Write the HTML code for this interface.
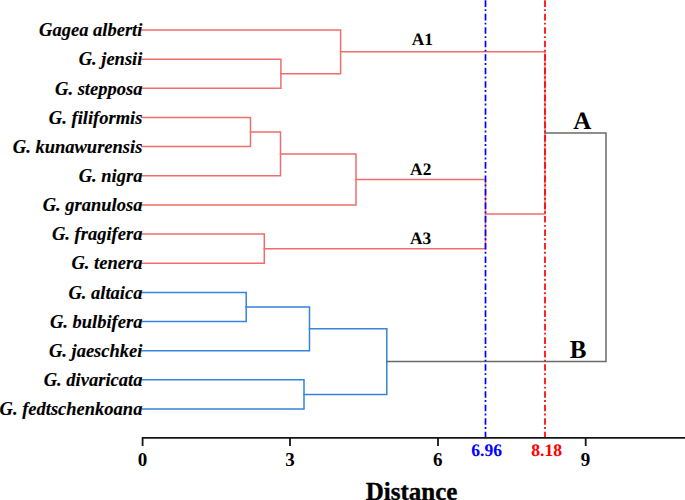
<!DOCTYPE html>
<html><head><meta charset="utf-8"><style>
html,body{margin:0;padding:0;background:#fff;}
svg{display:block;}
</style></head><body>
<svg width="685" height="500" viewBox="0 0 685 500">
<rect width="685" height="500" fill="#fff"/>
<g fill="none" stroke-width="1.5" stroke-linecap="square">
<path d="M142.00 59.15H280.90V88.31H142.00" stroke="#ee6e6e"/>
<path d="M142.00 30.00H340.60V73.73H280.90" stroke="#ee6e6e"/>
<path d="M142.00 117.46H250.50V146.62H142.00" stroke="#ee6e6e"/>
<path d="M250.50 132.04H280.50V175.77H142.00" stroke="#ee6e6e"/>
<path d="M280.50 153.90H356.00V204.92H142.00" stroke="#ee6e6e"/>
<path d="M142.00 234.08H264.30V263.23H142.00" stroke="#ee6e6e"/>
<path d="M356.00 179.41H485.50V248.65H264.30" stroke="#ee6e6e"/>
<path d="M340.60 51.87H545.00V214.03H485.50" stroke="#ee6e6e"/>
<path d="M142.00 292.38H246.20V321.54H142.00" stroke="#3682dd"/>
<path d="M246.20 306.96H309.50V350.69H142.00" stroke="#3682dd"/>
<path d="M142.00 379.85H304.00V409.00H142.00" stroke="#3682dd"/>
<path d="M309.50 328.83H386.80V394.42H304.00" stroke="#3682dd"/>
<path d="M545.00 132.95H606.00V361.62H386.80" stroke="#6a6a6a"/>
</g>
<g font-family="'Liberation Serif', serif" font-weight="bold" font-style="italic" font-size="18.5" text-anchor="end" fill="#000" stroke="#000" stroke-width="0.12">
<text x="142.4" y="36.20">Gagea alberti</text>
<text x="142.4" y="65.35">G. jensii</text>
<text x="142.4" y="94.51">G. stepposa</text>
<text x="142.4" y="123.66">G. filiformis</text>
<text x="142.4" y="152.82">G. kunawurensis</text>
<text x="142.4" y="181.97">G. nigra</text>
<text x="142.4" y="211.12">G. granulosa</text>
<text x="142.4" y="240.28">G. fragifera</text>
<text x="142.4" y="269.43">G. tenera</text>
<text x="142.4" y="298.58">G. altaica</text>
<text x="142.4" y="327.74">G. bulbifera</text>
<text x="142.4" y="356.89">G. jaeschkei</text>
<text x="142.4" y="386.05">G. divaricata</text>
<text x="142.4" y="415.20">G. fedtschenkoana</text>
</g>
<g fill="none" stroke-width="1.7" stroke-dasharray="6.6 2.3 1.9 2.68" stroke-dashoffset="-0.3">
<path d="M485.5 0V437" stroke="#0000ff"/>
<path d="M545 0V437" stroke="#ff0000"/>
</g>
<g fill="none" stroke="#151515" stroke-width="1.8">
<path d="M142.6 446V437.9H686"/>
<path d="M290 437.9V446M438 437.9V446M585.7 437.9V446"/>
</g>
<g font-family="'Liberation Serif', serif" font-weight="bold" text-anchor="middle">
<text x="142.5" y="466.4" font-size="19">0</text>
<text x="290" y="466.4" font-size="19">3</text>
<text x="437.8" y="466.4" font-size="19">6</text>
<text x="585.6" y="466.4" font-size="19">9</text>
<text text-rendering="geometricPrecision" transform="translate(486.6 456)" font-size="17.6" fill="#0000ff">6.96</text>
<text text-rendering="geometricPrecision" transform="translate(546.6 456)" font-size="17.6" fill="#ff0000">8.18</text>
<text transform="translate(422.4 45)" font-size="17.4" text-rendering="geometricPrecision">A1</text>
<text transform="translate(420.7 175)" font-size="17.4" text-rendering="geometricPrecision">A2</text>
<text transform="translate(420.5 243.8)" font-size="17.4" text-rendering="geometricPrecision">A3</text>
<text x="582.2" y="128.7" font-size="25" text-rendering="geometricPrecision">A</text>
<text x="578" y="358" font-size="25">B</text>
<text x="411.5" y="499.5" font-size="25" stroke="#000" stroke-width="0.35">Distance</text>
</g>
</svg>
</body></html>
